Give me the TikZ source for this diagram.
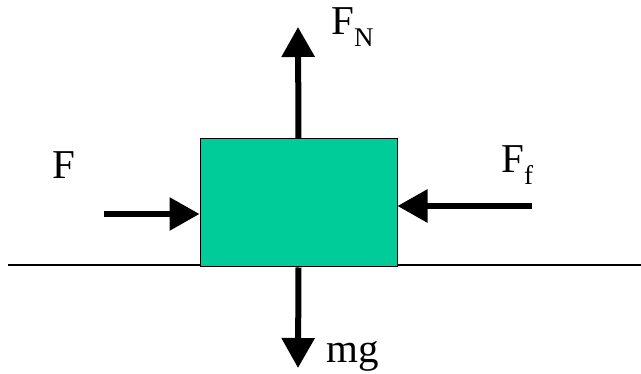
\documentclass[tikz,border=0pt]{standalone}
\usepackage{fontspec}
\setmainfont{Liberation Serif}
\usetikzlibrary{arrows.meta}
\definecolor{boxgreen}{HTML}{00CC99}
\tikzset{
  force/.style={line width=6pt,-{Triangle[length=30pt,width=32pt]}},
  lbl/.style={anchor=base west,inner sep=0pt,font=\fontsize{41}{41}\selectfont},
}
\newcommand{\lowsub}[1]{\raisebox{-12pt}{\fontsize{27}{27}\selectfont #1}}
\begin{document}
\begin{tikzpicture}[x=1pt,y=-1pt]
\useasboundingbox (0,0) rectangle (641,374);
\coordinate (g1) at (8,265);
\coordinate (g2) at (641,265);
\draw[line width=1.3pt] (g1) -- (g2);
\node[draw=black,line width=1pt,fill=boxgreen,minimum width=197pt,minimum height=128pt,inner sep=0pt] (box) at (298.5,203) {};
\coordinate (upend) at (298,27);
\coordinate (downend) at (298,368);
\coordinate (fstart) at (104,214);
\coordinate (ffstart) at (532,206);
\draw[force] (box.north) -- (upend);
\draw[force] (box.south) -- (downend);
\draw[force] (fstart) -- (box.west |- fstart);
\draw[force] (ffstart) -- (box.east |- ffstart);
\node[lbl] (fn) at (331,35) {F\lowsub{N}};
\node[lbl] (f) at (52,179) {F};
\node[lbl] (ff) at (501,173) {F\lowsub{f}};
\node[lbl] (mg) at (326,363) {mg};
\end{tikzpicture}
\end{document}
